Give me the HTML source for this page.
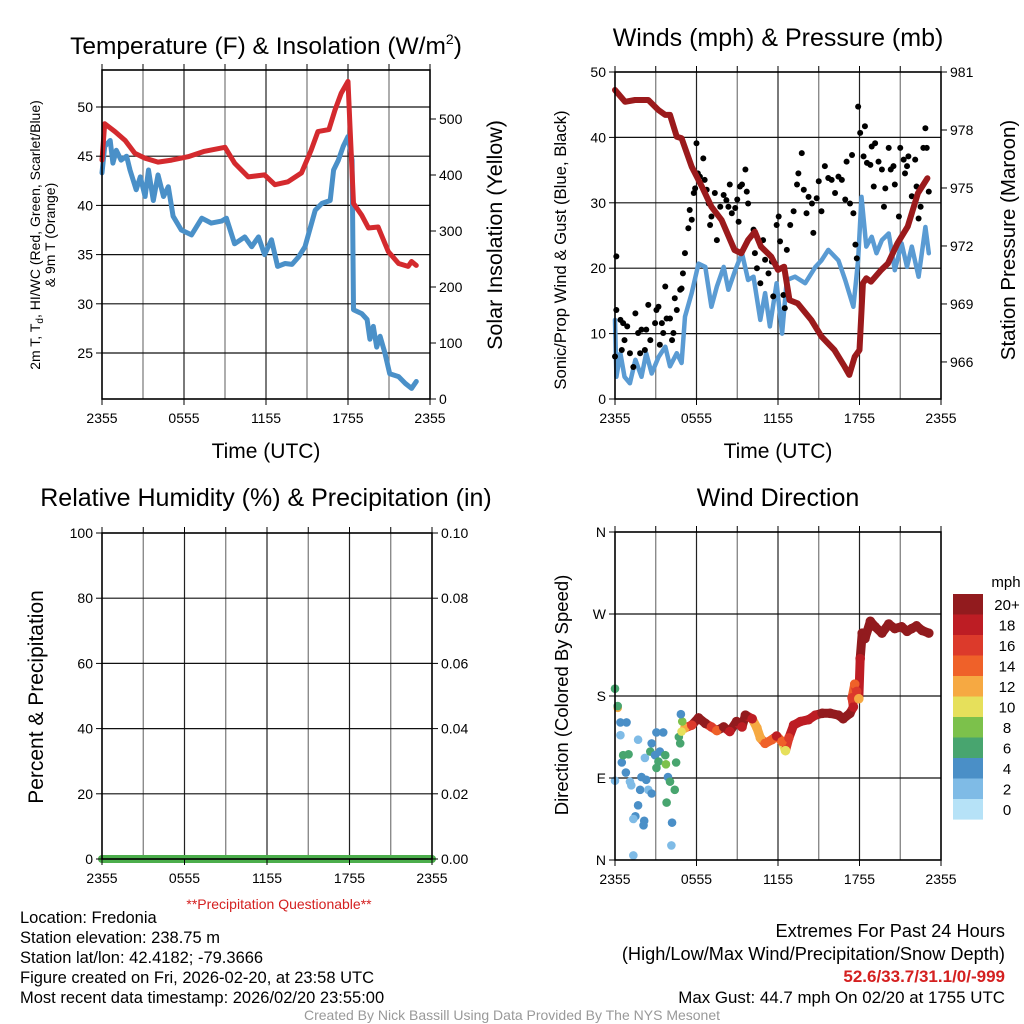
<!DOCTYPE html>
<html><head><meta charset="utf-8"><style>
html,body{margin:0;padding:0;background:#fff;}
svg{display:block;font-family:"Liberation Sans",sans-serif;}
</style></head><body>
<svg id="chart" width="1024" height="1024" viewBox="0 0 1024 1024" xmlns="http://www.w3.org/2000/svg">
<g id="grids"></g>
<g id="marks"></g>
<g id="frames"></g>
<g id="texts" fill="#000">
<text x="266" y="54" font-size="24.5" text-anchor="middle">Temperature (F) &amp; Insolation (W/m<tspan font-size="14" dy="-10">2</tspan><tspan dy="10">)</tspan></text>
<text x="778" y="46" font-size="25" text-anchor="middle">Winds (mph) &amp; Pressure (mb)</text>
<text x="266" y="506" font-size="25" text-anchor="middle">Relative Humidity (%) &amp; Precipitation (in)</text>
<text x="778" y="506" font-size="25" text-anchor="middle">Wind Direction</text>
<text x="266" y="458" font-size="21" text-anchor="middle">Time (UTC)</text>
<text x="778" y="458" font-size="21" text-anchor="middle">Time (UTC)</text>
<text font-size="14" text-anchor="middle" transform="translate(40,235) rotate(-90)">2m T, T<tspan font-size="10" dy="3">d</tspan><tspan dy="-3">, HI/WC (Red, Green, Scarlet/Blue)</tspan></text>
<text font-size="14" text-anchor="middle" transform="translate(55,235) rotate(-90)">&amp; 9m T (Orange)</text>
<text font-size="21.5" text-anchor="middle" transform="translate(502,235) rotate(-90)">Solar Insolation (Yellow)</text>
<text font-size="16.7" text-anchor="middle" transform="translate(566,250) rotate(-90)">Sonic/Prop Wind &amp; Gust (Blue, Black)</text>
<text font-size="20.5" text-anchor="middle" transform="translate(1015,240) rotate(-90)">Station Pressure (Maroon)</text>
<text font-size="21" text-anchor="middle" transform="translate(43,697) rotate(-90)">Percent &amp; Precipitation</text>
<text font-size="18.5" text-anchor="middle" transform="translate(568,695) rotate(-90)">Direction (Colored By Speed)</text>
<text x="279" y="909" font-size="14" fill="#d42020" text-anchor="middle">**Precipitation Questionable**</text>
<g font-size="16.5">
<text x="20" y="923">Location: Fredonia</text>
<text x="20" y="943">Station elevation: 238.75 m</text>
<text x="20" y="963">Station lat/lon: 42.4182; -79.3666</text>
<text x="20" y="983">Figure created on Fri, 2026-02-20, at 23:58 UTC</text>
<text x="20" y="1003">Most recent data timestamp: 2026/02/20 23:55:00</text>
</g>
<g font-size="18.2" text-anchor="end">
<text x="1005" y="937">Extremes For Past 24 Hours</text>
<text x="1005" y="960">(High/Low/Max Wind/Precipitation/Snow Depth)</text>
<text x="1005" y="982" fill="#d42020" font-weight="bold" font-size="17">52.6/33.7/31.1/0/-999</text>
<text x="1005" y="1003" font-size="16.9">Max Gust: 44.7 mph On 02/20 at 1755 UTC</text>
</g>
<text x="512" y="1020" font-size="14" fill="#999" text-anchor="middle">Created By Nick Bassill Using Data Provided By The NYS Mesonet</text>
</g>
</svg>
<script>
// ---- data ----
const timeTickLabels = ["2355","0555","1155","1755","2355"];
const tempTimes = [0,0.2,0.95,1.7,2.4,3.15,4.1,5.1,6.3,7.5,9.0,9.7,10.7,11.9,12.65,13.6,14.6,15.3,15.8,16.6,17.05,17.5,18.0,18.15,18.4,19.0,19.5,20.2,20.95,21.7,22.4,22.65,23.0];
const tempValues = [44.6,48.3,47.5,46.6,45.3,44.8,44.4,44.6,44.95,45.5,45.9,44.3,42.9,43.1,42.1,42.4,43.3,45.6,47.5,47.7,49.7,51.4,52.6,48.0,40.2,39.0,37.7,37.8,35.3,34.1,33.8,34.3,33.9];
const dewTimes = [0,0.2,0.6,0.8,1.05,1.4,1.8,2.05,2.5,2.8,3.15,3.4,3.75,4.1,4.5,4.85,5.2,5.8,6.55,7.3,8.0,8.75,9.1,9.7,10.45,10.95,11.45,11.9,12.4,12.85,13.4,13.9,14.4,14.85,15.6,16.1,16.7,16.95,17.3,17.65,18.0,18.3,18.4,19.0,19.4,19.6,19.85,20.1,20.35,20.7,21.05,21.7,22.2,22.65,23.0];
const dewValues = [43.3,46.0,46.6,44.3,45.6,44.6,45.0,43.6,41.6,42.9,40.9,43.6,40.5,43.1,40.9,41.9,38.9,37.5,37.0,38.7,38.2,38.4,38.7,36.1,36.8,35.8,36.8,35.0,36.5,33.8,34.1,34.0,34.8,35.8,39.5,40.2,40.5,43.6,44.6,46.0,47.0,44.6,29.4,29.0,28.4,26.4,27.7,25.6,26.7,25.0,22.9,22.6,21.9,21.4,22.1];
const tempTicks = [25,30,35,40,45,50];
const insolTicks = [0,100,200,300,400,500];

const presTimes = [0,0.74,1.47,2.45,3.2,3.7,4.05,4.55,4.9,5.65,6.4,7.1,7.85,8.8,9.3,9.8,10.3,10.75,11.5,12.0,12.45,12.85,13.45,14.45,15.2,16.15,16.9,17.25,17.65,18.0,18.25,18.5,18.85,19.6,20.1,20.8,21.55,22.3,23.0];
const presValues = [980.07,979.46,979.55,979.55,979.03,978.78,978.78,977.65,977.57,976.1,975.07,974.03,973.34,971.79,971.62,972.31,972.74,971.96,971.45,970.76,970.93,969.2,969.03,968.17,967.31,966.62,965.76,965.33,966.27,966.62,970.07,970.33,970.15,970.76,971.1,972.14,973.0,974.73,975.5];
const windTimes = [0,0.1,0.4,0.7,1.1,1.5,1.95,2.3,2.7,3.2,3.7,4.05,4.55,4.9,5.15,5.65,6.15,6.65,7.1,7.5,8.0,8.35,8.85,9.35,9.8,10.2,10.7,11.05,11.4,11.9,12.3,12.65,13.25,14.0,14.75,15.2,15.7,16.45,16.95,17.55,17.9,18.15,18.5,18.9,19.25,19.65,20.15,20.6,21.1,21.5,21.85,22.35,22.85,23.1];
const windValues = [12.1,3.4,7.0,3.4,2.4,6.0,3.4,7.0,3.9,6.4,8.0,5.0,7.0,5.5,12.6,16.2,20.7,20.2,14.1,17.2,20.2,16.7,19.7,22.3,18.2,18.7,12.1,16.2,11.1,17.7,10.0,18.2,18.7,17.7,20.2,21.2,22.8,21.2,18.2,14.1,21.2,30.9,23.3,24.8,22.3,24.3,25.3,19.7,23.8,20.2,23.3,18.7,26.3,22.3];
const gustTimes = [0,0.1,0.1,0.4,0.6,0.9,0.5,0.7,1.1,1.35,1.5,1.7,1.95,2.2,1.85,2.3,2.6,2.45,2.95,3.05,3.2,3.3,3.45,3.55,3.7,3.8,4.05,4.2,4.3,4.4,4.55,4.8,4.9,5.0,5.15,5.4,5.5,5.65,5.8,5.9,6.0,6.1,6.25,6.5,6.6,6.75,6.9,7.0,7.1,7.35,7.5,7.75,8.0,8.2,8.35,8.45,8.6,8.85,9.0,9.1,9.2,9.35,9.6,9.7,9.8,10.2,10.3,10.45,10.7,10.9,11.05,11.3,11.55,11.65,11.9,12.05,12.15,12.4,12.5,12.65,12.9,13.15,13.4,13.5,13.75,13.9,14.1,14.25,14.5,14.6,14.85,15.0,15.2,15.45,15.7,15.95,16.2,16.45,16.7,16.95,17.05,17.3,17.45,17.55,17.7,17.8,17.9,18.05,18.3,18.4,18.55,18.8,18.9,19.05,19.15,19.4,19.65,19.8,19.9,20.15,20.3,20.5,20.6,20.9,21.0,21.25,21.35,21.5,21.6,21.85,22.1,22.2,22.35,22.5,22.7,22.85,22.95,23.1];
const gustValues = [6.5,21.8,13.6,12.1,11.6,11.1,7.5,9.0,7.0,4.9,13.1,10.1,10.6,7.5,7.0,10.6,9.0,14.4,11.6,13.6,14.1,8.3,11.6,10.1,17.2,12.3,12.3,9.0,10.1,15.4,13.6,16.7,16.9,19.2,22.3,26.1,28.9,27.4,31.5,32.2,39.1,34.5,34.0,36.8,33.5,32.0,29.9,26.6,27.9,31.5,24.3,29.4,31.2,30.4,29.4,32.8,28.4,29.2,30.5,27.1,32.5,32.8,35.1,31.7,29.9,25.9,22.3,20.0,17.7,24.3,21.3,19.2,21.0,15.7,26.6,27.9,24.1,15.9,13.9,22.8,26.6,28.7,32.8,34.5,37.6,32.0,28.4,30.9,29.9,25.4,30.7,33.3,28.7,35.6,33.8,33.5,31.5,34.0,33.5,30.5,36.3,29.9,37.3,28.4,23.6,21.5,44.7,40.7,37.1,41.7,36.1,35.8,38.6,32.5,39.1,36.3,35.1,29.4,32.2,38.4,35.1,35.6,32.8,27.9,38.4,36.6,34.5,35.6,37.1,31.0,36.6,32.5,27.6,29.4,38.4,41.4,38.4,31.7];
const windTicks = [0,10,20,30,40,50];
const presTicks = [966,969,972,975,978,981];

const rhTicks = [0,20,40,60,80,100];
const precipTickLabels = ["0.00","0.02","0.04","0.06","0.08","0.10"];
const precipTimes = [0,24];
const precipValues = [0,0];

const dirTickLabels = ["N","E","S","W","N"];
const scatterTimes = [0,0.2,0.2,0.4,0.85,0.4,0,0.5,0.6,1.0,0.8,1.1,1.2,1.7,1.95,1.85,2.3,2.45,2.7,1.7,1.5,1.35,2.15,2.1,1.35,2.2,2.6,2.7,3.05,3.55,2.95,3.3,3.05,3.2,3.7,3.75,3.9,4.05,4.4,3.8,4.2,4.15,4.7,4.8,4.5,4.95,4.85,4.9];
const scatterDirs = [188,167,169,151,151,137,87,107,115,116,96,86,82,132,91,77,88,77,73,60,48,45,43,38,5,112,119,128,140,140,115,119,101,108,115,105,91,86,77,63,41,16,135,128,107,152,160,141];
const scatterSpeeds = [6,12,6,4,4,2,2,4,6,6,4,2,2,2,4,4,4,2,4,4,4,2,4,4,2,2,6,4,4,4,4,4,6,6,6,8,4,6,6,6,4,2,6,6,6,8,4,10];
const bandTimes = [5.15,5.65,6.15,6.65,7.1,7.5,8.0,8.45,8.95,9.35,9.6,10.1,10.45,10.7,11.05,11.55,11.9,12.3,12.55,12.8,13.15,13.65,14.25,14.75,15.25,15.85,16.45,16.8,17.3,17.55,17.45,17.65,17.8,17.95,18.05,18.2,18.4,18.8,19.15,19.65,20.15,20.6,21.1,21.5,21.85,22.2,22.6,23.1];
const bandDirs = [145,148,156,150,146,142,146,141,152,146,159,155,145,134,128,132,136,130,120,134,148,152,154,159,161,161,159,155,161,168,178,193,185,177,221,249,243,262,256,249,259,254,256,251,254,257,252,249];
const bandSpeeds = [12,16,20,20,16,14,20,18,20,18,20,18,12,12,14,14,18,14,10,16,18,18,18,18,20,20,20,20,20,18,16,14,16,12,18,20,20,20,20,20,20,20,20,20,20,20,20,20];
const speedLabels = ["20+","18","16","14","12","10","8","6","4","2","0"];
const speedColors = ["#921b1e","#bd1d24","#dc3a2b","#ef6129","#f6a942","#e6e05b","#7cc14b","#48a56f","#4a8fc7","#7fbbe6","#b6e2f7"];

// ---- helpers ----
const NS="http://www.w3.org/2000/svg";
function mk(tag, attrs, parent){const e=document.createElementNS(NS,tag);for(const k in attrs)e.setAttribute(k,attrs[k]);parent.appendChild(e);return e;}
const G=document.getElementById('grids'),M=document.getElementById('marks'),F=document.getElementById('frames');

const panels=[
 {id:'temp',x0:102,x1:430,y0:70,y1:399},
 {id:'wind',x0:615,x1:941,y0:72,y1:399},
 {id:'rh',x0:102,x1:432,y0:533,y1:859},
 {id:'dir',x0:615,x1:941,y0:532,y1:860}
];
function xs(p,t){return p.x0+(p.x1-p.x0)*t/24;}

const tY=v=>107+(50-v)*9.84, iY=v=>399-v*0.56;
const wY=v=>399-v*6.54, pY=v=>72+(981-v)*19.33;
const rY=v=>859-v*3.26, prY=v=>859-v*3260;
const dY=d=>860-d*328/360;

function frame(p, leftTicks, leftLabels, leftY, rightTicks, rightLabels, rightY){
  for(let h=3;h<24;h+=3){
    const l=mk('line',{x1:xs(p,h),x2:xs(p,h),y1:p.y0,y2:p.y1,stroke:h%6===0?'#222':'#777','stroke-width':1.2},G);
    
    
  }
  leftTicks.forEach((v,i)=>{
    const y=leftY(v);
    if(y>p.y0+1&&y<p.y1-1){
      const l=mk('line',{x1:p.x0,x2:p.x1,y1:y,y2:y,stroke:'#111','stroke-width':1.2},G);
      
      
    }
    mk('line',{x1:p.x0-6,x2:p.x0,y1:y,y2:y,stroke:'#000','stroke-width':1},F);
    const t=mk('text',{x:p.x0-9,y:y+5,'font-size':14,'text-anchor':'end'},F);
    t.textContent=leftLabels[i];
    
    
  });
  if(rightTicks) rightTicks.forEach((v,i)=>{
    const y=rightY(v);
    mk('line',{x1:p.x1,x2:p.x1+6,y1:y,y2:y,stroke:'#000','stroke-width':1},F);
    const t=mk('text',{x:p.x1+9,y:y+5,'font-size':14,'text-anchor':'start'},F);
    t.textContent=rightLabels[i];
    
    
  });
  timeTickLabels.forEach((s,i)=>{
    const x=xs(p,i*6);
    mk('line',{x1:x,x2:x,y1:p.y1,y2:p.y1+6,stroke:'#000','stroke-width':1},F);
    const t=mk('text',{x:x,y:p.y1+24,'font-size':14,'text-anchor':'middle'},F);
    t.textContent=s;
    
    
  });
  for(let h=0;h<=24;h+=3){
    mk('line',{x1:xs(p,h),x2:xs(p,h),y1:p.y0-6,y2:p.y0,stroke:'#000','stroke-width':1},F);
  }
  const r=mk('rect',{x:p.x0,y:p.y0,width:p.x1-p.x0,height:p.y1-p.y0,fill:'none',stroke:'#000','stroke-width':1.6},F);
  
  
}
function line(p,ts,vs,yf,color,w,name){
  const d=ts.map((t,i)=>(i?'L':'M')+xs(p,t).toFixed(1)+','+yf(vs[i]).toFixed(1)).join('');
  const e=mk('path',{d:d,fill:'none',stroke:color,'stroke-width':w,'stroke-linejoin':'round','stroke-linecap':'round'},M);
  
  
}

frame(panels[0],tempTicks,tempTicks.map(String),tY,insolTicks,insolTicks.map(String),iY);
line(panels[0],dewTimes,dewValues,tY,'#4a90c8',5,'dewpoint-line');
line(panels[0],tempTimes,tempValues,tY,'#d42a2e',5,'temperature-line');

frame(panels[1],windTicks,windTicks.map(String),wY,presTicks,presTicks.map(String),pY);
line(panels[1],windTimes,windValues,wY,'#5a9bd3',4.5,'wind-speed-line');
gustTimes.forEach((t,i)=>{
  const c=mk('circle',{cx:xs(panels[1],t),cy:wY(gustValues[i]),r:3,fill:'#000'},M);
  
  
});
line(panels[1],presTimes,presValues,pY,'#9b1a1c',6,'pressure-line');

frame(panels[2],rhTicks,rhTicks.map(String),rY,[0,0.02,0.04,0.06,0.08,0.1],precipTickLabels,prY);
line(panels[2],precipTimes,precipValues,prY,'#4cae4c',8,'precipitation-line');

frame(panels[3],[0,90,180,270,360],dirTickLabels,dY,null,null,null);
function spColor(s){return speedColors[10-Math.min(10,Math.round(s/2))];}
for(let i=1;i<bandTimes.length;i++){
  const l=mk('line',{x1:xs(panels[3],bandTimes[i-1]),y1:dY(bandDirs[i-1]),x2:xs(panels[3],bandTimes[i]),y2:dY(bandDirs[i]),stroke:spColor(bandSpeeds[i]),'stroke-width':9,'stroke-linecap':'round'},M);
  
  
}
bandTimes.forEach((t,i)=>{
  const c=mk('circle',{cx:xs(panels[3],t),cy:dY(bandDirs[i]),r:4.8,fill:spColor(bandSpeeds[i])},M);
  
  
});
scatterTimes.forEach((t,i)=>{
  const c=mk('circle',{cx:xs(panels[3],t),cy:dY(scatterDirs[i]),r:4.3,fill:spColor(scatterSpeeds[i])},M);
  
  
});
const cb=mk('g',{},F);


const ct=mk('text',{x:1006,y:587,'font-size':15,'text-anchor':'middle'},cb);
ct.textContent='mph';
speedLabels.forEach((s,i)=>{
  const y=594+i*20.5;
  const r=mk('rect',{x:953,y:y,width:30,height:20.6,fill:speedColors[i]},cb);
  
  
  const t=mk('text',{x:1007,y:y+16,'font-size':15,'text-anchor':'middle'},cb);
  t.textContent=s;
  
  
});
</script>
</body></html>
